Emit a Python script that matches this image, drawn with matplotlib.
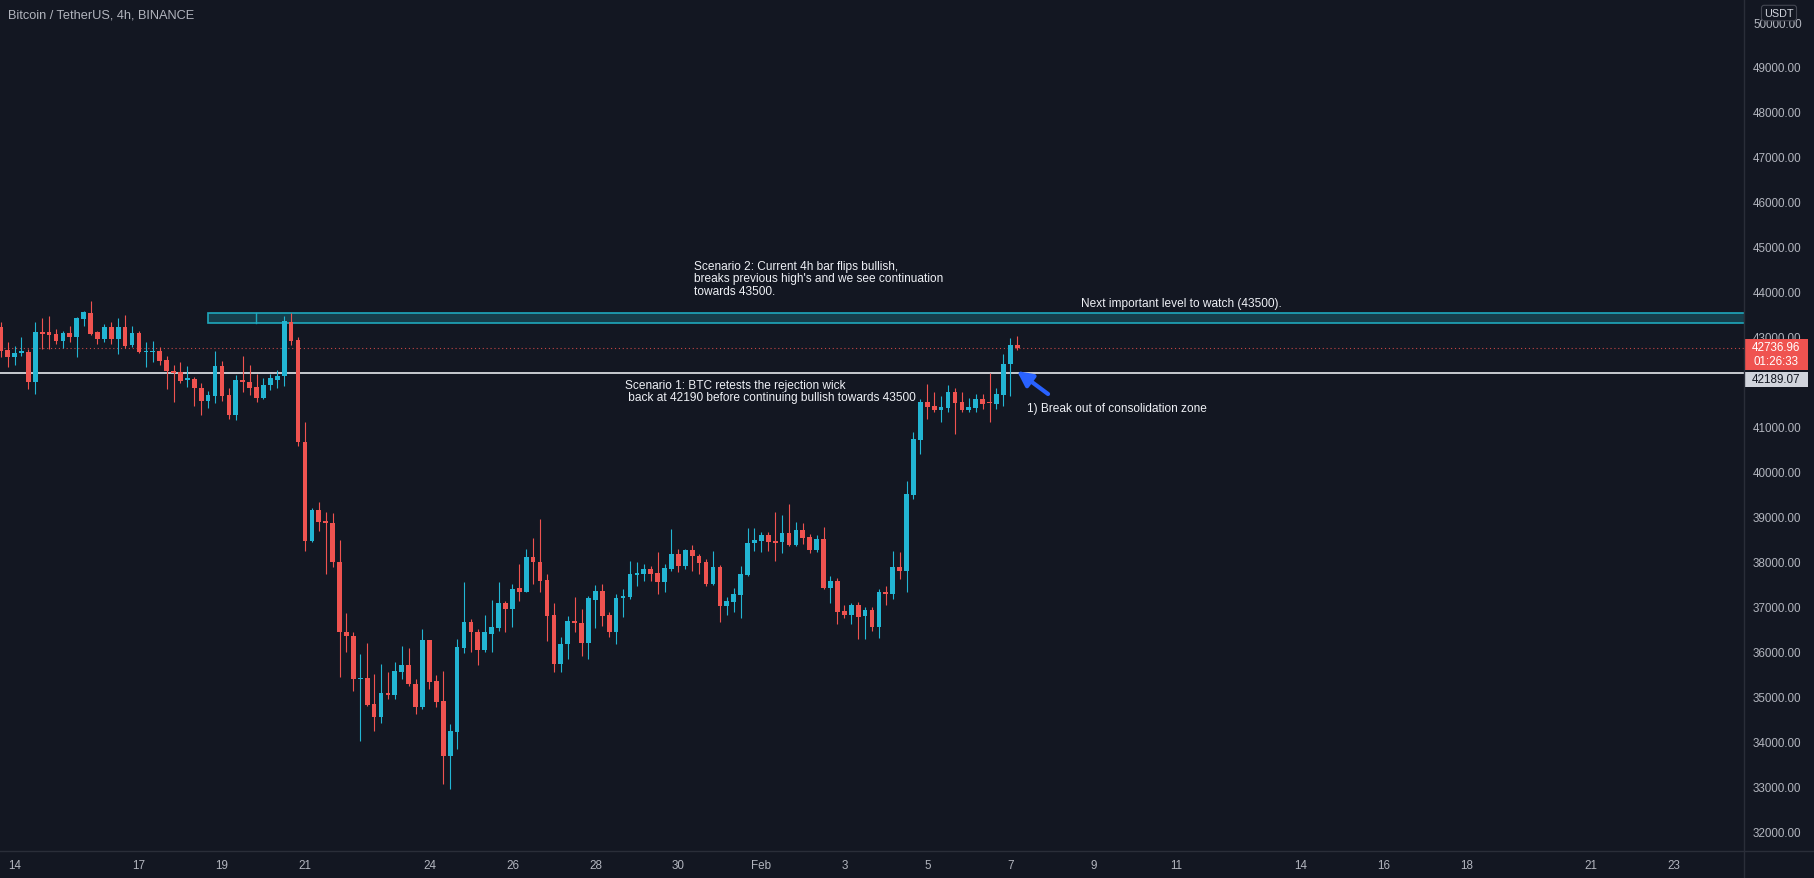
import numpy as np
import matplotlib
matplotlib.use("Agg")
import matplotlib.pyplot as plt
import matplotlib.transforms as mtransforms
from matplotlib.patches import Rectangle
from matplotlib.lines import Line2D

# 4h bars, index 0 = Jan 14 00:00, first visible bar is index -2
bar_start = -2
opens = [43207, 42702, 42554, 42628, 42665, 41998, 43110, 43095, 43066, 42910,
         43088, 42999, 43392, 43526, 43095, 42947, 43221, 42947, 43221, 42813,
         43080, 42650, 42650, 42687, 42480, 42242, 42205, 42035, 42057, 41857,
         41575, 41686, 42339, 41701, 41256, 42042, 41983, 41886, 41634, 41923,
         42042, 42116, 43318, 42932, 40663, 38460, 39150, 38905, 38853, 37978,
         36435, 36346, 35382, 35404, 34826, 34529, 35070, 35026, 35545, 35693,
         35271, 34752, 36257, 35345, 34900, 33676, 34210, 36064, 36658, 36435,
         36035, 36383, 36509, 37073, 36940, 37399, 37325, 38089, 37993, 37592,
         36806, 35716, 36161, 36680, 36628, 36183, 37147, 37340, 36806, 36435,
         37177, 37199, 37696, 37718, 37830, 37741, 37548, 37830, 38163, 37904,
         38260, 38126, 37993, 37496, 37867, 37014, 37103, 37251, 37696, 38401,
         38460, 38586, 38438, 38423, 38630, 38364, 38697, 38534, 38260, 38497,
         37399, 37570, 36902, 36806, 37028, 36776, 36917, 36532, 37310, 37273,
         37867, 37778, 39476, 40707, 41553, 41449, 41375, 41404, 41775, 41553,
         41375, 41404, 41612, 41538, 41501, 41701, 42380, 42813]
highs = [43318, 42873, 42784, 42984, 42725, 43333, 43407, 43466, 43170, 43132,
         43244, 43429, 43577, 43785, 43132, 43281, 43318, 43407, 43481, 43244,
         43132, 42873, 42910, 42776, 42576, 42369, 42443, 42339, 42094, 41961,
         41797, 42687, 42465, 41849, 42146, 42576, 42369, 42168, 42072, 42168,
         42257, 43451, 43526, 42984, 41108, 39179, 39328, 39090, 39075, 38482,
         36851, 36435, 35938, 36183, 35493, 35716, 35530, 35753, 36124, 36064,
         35382, 36494, 36257, 35471, 35567, 34381, 36272, 37548, 36717, 36494,
         36806, 37147, 37548, 37125, 37496, 37941, 38274, 38512, 38942, 37718,
         37073, 36309, 36791, 37199, 36940, 37236, 37474, 37496, 36865, 37273,
         37384, 38015, 37993, 37941, 37904, 38200, 37941, 38720, 38275, 38275,
         38364, 38163, 38052, 38237, 37919, 37199, 37399, 37904, 38742, 38742,
         38660, 38660, 39090, 39031, 39276, 38883, 38853, 38608, 38586, 38757,
         37666, 37622, 37028, 37073, 37088, 36977, 36977, 37384, 37444, 38237,
         38215, 39795, 40870, 41612, 41946, 41760, 41686, 41924, 41849, 41775,
         41627, 41723, 41723, 42191, 41849, 42620, 42963, 43010]
lows = [42539, 42317, 42369, 42576, 41834, 41723, 42725, 42725, 42836, 42739,
        42888, 42539, 43244, 43040, 42836, 42873, 42836, 42606, 42739, 42762,
        42636, 42317, 42443, 42369, 41834, 41538, 41968, 41872, 41464, 41256,
        41412, 41523, 41575, 41167, 41152, 41760, 41701, 41538, 41612, 41820,
        41849, 41909, 42821, 40574, 38237, 38438, 38682, 37718, 37867, 35419,
        35990, 35122, 34010, 34789, 34232, 34403, 34937, 34937, 35382, 35234,
        34603, 34714, 35160, 34752, 33046, 32934, 33825, 35961, 35975, 35693,
        35990, 35990, 36457, 36420, 36532, 37125, 37310, 37496, 37325, 36235,
        35530, 35540, 35827, 36420, 35901, 35827, 36509, 36569, 36309, 36161,
        36754, 37162, 37444, 37570, 37570, 37273, 37325, 37793, 37755, 37830,
        37793, 37718, 37444, 37474, 36643, 36813, 36880, 36732, 37681, 38237,
        38200, 38237, 38015, 38185, 38349, 38349, 38386, 38185, 38200, 37384,
        37073, 36606, 36732, 36606, 36272, 36272, 36457, 36287, 37028, 37162,
        37607, 37310, 39387, 40388, 41167, 41315, 41108, 41315, 40833, 41330,
        41330, 41315, 41390, 41108, 41390, 41464, 41685, 42700]
closes = [42687, 42554, 42636, 42673, 41998, 43110, 43066, 43043, 42895, 43088,
          42984, 43414, 43540, 43058, 42947, 43221, 42947, 43221, 42799, 43080,
          42650, 42665, 42687, 42465, 42228, 42191, 42020, 42072, 41849, 41575,
          41708, 42339, 41686, 41256, 42042, 41983, 41857, 41634, 41923, 42072,
          42131, 43340, 42910, 40663, 38460, 39150, 38883, 38853, 37978, 36435,
          36331, 35382, 35404, 34803, 34529, 35070, 35026, 35567, 35693, 35271,
          34752, 36257, 35323, 34863, 33676, 34232, 36087, 36658, 36420, 36035,
          36420, 36532, 37073, 36940, 37385, 37325, 38089, 37978, 37570, 36791,
          35716, 36161, 36680, 36621, 36183, 37177, 37340, 36791, 36435, 37192,
          37236, 37718, 37741, 37830, 37718, 37548, 37852, 38163, 37904, 38260,
          38111, 37963, 37496, 37867, 37014, 37125, 37273, 37718, 38408, 38475,
          38586, 38423, 38415, 38630, 38364, 38697, 38519, 38260, 38497, 37399,
          37570, 36880, 36806, 37028, 36769, 36917, 36532, 37310, 37273, 37867,
          37778, 39498, 40722, 41553, 41427, 41375, 41427, 41775, 41523, 41375,
          41427, 41612, 41501, 41516, 41723, 42391, 42813, 42737]

day_ticks = [0, 18, 30, 42, 60, 72, 84, 96, 108, 120, 132, 144, 156, 168, 186, 198, 210, 228, 240]
day_labels = ["14", "17", "19", "21", "24", "26", "28", "30", "Feb", "3", "5", "7",
              "9", "11", "14", "16", "18", "21", "23"]
price_ticks = list(range(32000, 50001, 1000))

last_price = 42736.96
countdown = "01:26:33"
support_level = 42189.07
zone_low, zone_high = 43310, 43525
zone_start, zone_split = 28, 34.9

BG = "#131722"
UP = "#22b5d3"
DOWN = "#ef5350"
TXT = "#b2b5be"
LINE = "#2a2e39"
NOTE = "#eef0f5"

plt.rcParams["font.family"] = ["Liberation Sans", "DejaVu Sans"]

W, H = 1814, 879
fig = plt.figure(figsize=(W / 100, H / 100), dpi=100, facecolor=BG)
ax = fig.add_axes([0, 27 / H, 1744 / W, 852 / H], facecolor=BG)

x = np.arange(bar_start, bar_start + len(opens))
o = np.array(opens, dtype=float)
c = np.array(closes, dtype=float)
cols = [UP if cc >= oo else DOWN for oo, cc in zip(o, c)]

# zone of interest (43500)
ax.add_patch(Rectangle((zone_start, zone_low), 300, zone_high - zone_low,
                       facecolor=(0.13, 0.65, 0.72, 0.28), edgecolor="#1fa8bc", lw=1.2, zorder=1))
ax.plot([zone_split, zone_split], [zone_low, zone_high], color="#1fa8bc", lw=1.0, zorder=1)

# candles
ax.vlines(x, lows, highs, colors=cols, linewidth=0.8, zorder=3)
ax.bar(x, np.maximum(np.abs(c - o), 30), width=0.68, bottom=np.minimum(o, c),
       color=cols, linewidth=0, zorder=4)

ax.axhline(support_level, color="#e6e8ee", lw=1.2, zorder=2)
ax.axhline(last_price, color=DOWN, lw=0.8, ls=(0, (1, 2.5)), alpha=0.8, zorder=2)

ax.set_xlim(-2.097, 250.1)
ax.set_ylim(31555, 50512)

ax.yaxis.tick_right()
ax.set_yticks(price_ticks)
ax.set_yticklabels([f"{p:.2f}" for p in price_ticks])
ax.set_xticks(day_ticks)
ax.set_xticklabels(day_labels)
ax.tick_params(axis="y", length=0, pad=6.5, labelsize=8.4, labelcolor=TXT)
ax.tick_params(axis="x", length=0, pad=6, labelsize=8.4, labelcolor=TXT)
for s in ax.spines.values():
    s.set_visible(False)

fig.add_artist(Line2D([0, 1], [27 / H, 27 / H], color=LINE, lw=1))
fig.add_artist(Line2D([1744 / W, 1744 / W], [0, 1], color=LINE, lw=1))

# price tags on the axis
tr = mtransforms.blended_transform_factory(ax.transAxes, ax.transData)
tag_w = 64 / 1744
ax.add_patch(Rectangle((1.0, last_price - 480), tag_w, 690, transform=tr,
                       facecolor=DOWN, edgecolor="none", clip_on=False, zorder=5))
ax.text(1.0 + tag_w / 2, last_price + 32, f"{last_price:.2f}", transform=tr, ha="center",
        va="center", fontsize=8.4, color="white", clip_on=False, zorder=6)
ax.text(1.0 + tag_w / 2, last_price - 280, countdown, transform=tr, ha="center",
        va="center", fontsize=8.4, color="white", clip_on=False, zorder=6)
ax.add_patch(Rectangle((1.0, support_level - 310), tag_w, 334, transform=tr,
                       facecolor="#d1d4dc", edgecolor="none", clip_on=False, zorder=5))
ax.text(1.0 + tag_w / 2, support_level - 143, f"{support_level:.2f}", transform=tr,
        ha="center", va="center", fontsize=8.4, color=BG, clip_on=False, zorder=6)

fig.text(1779 / W, 1 - 14 / H, "USDT", ha="center", va="center", fontsize=7.8, color="#d1d4dc",
         bbox=dict(boxstyle="round,pad=0.25", facecolor=BG, edgecolor="#434651", lw=0.8))

fig.text(8 / W, 1 - 16 / H, "Bitcoin / TetherUS, 4h, BINANCE", fontsize=9.2, color=TXT, va="center")

# notes
ax.text(98.26, 44705, "Scenario 2: Current 4h bar flips bullish,\nbreaks previous high's and we see continuation\ntowards 43500.",
        fontsize=8.6, color=NOTE, va="top", ha="left", linespacing=1.05, zorder=7)
ax.text(154.2, 43748, "Next important level to watch (43500).", fontsize=8.6, color=NOTE,
        va="center", ha="left", zorder=7)
ax.text(88.3, 42057, "Scenario 1: BTC retests the rejection wick\n back at 42190 before continuing bullish towards 43500",
        fontsize=8.6, color=NOTE, va="top", ha="left", linespacing=1.05, zorder=7)
ax.text(146.4, 41412, "1) Break out of consolidation zone", fontsize=8.6, color=NOTE,
        va="center", ha="left", zorder=7)
ax.annotate("", xy=(144.97, 42235), xytext=(149.46, 41723),
            arrowprops=dict(arrowstyle="-|>,head_length=0.9,head_width=0.45", color="#2962ff",
                            lw=3, shrinkA=0, shrinkB=0), zorder=7)

fig.savefig("out.png", dpi=100, facecolor=BG)
